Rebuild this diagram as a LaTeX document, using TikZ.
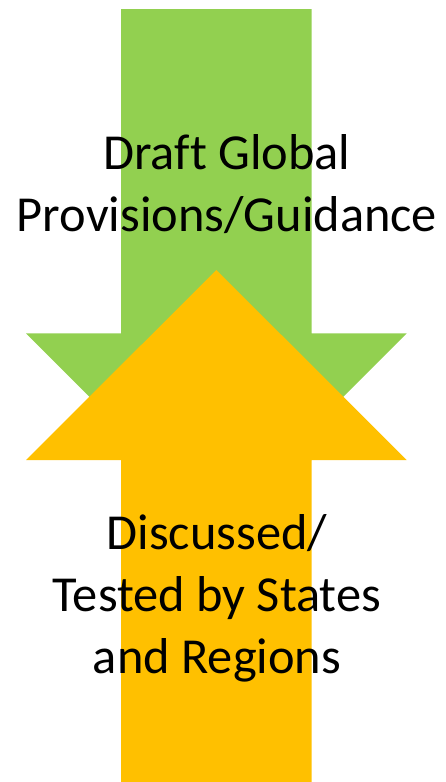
\documentclass[tikz,border=0pt]{standalone}
\usepackage{fontspec}
\setmainfont[Ligatures=NoCommon]{Carlito}
\definecolor{leafgreen}{HTML}{92D050}
\definecolor{amber}{HTML}{FFC000}
\tikzset{
  bigtext/.style={align=center, inner sep=0pt, anchor=base,
    font=\fontsize{50.4}{62}\selectfont}
}
\begin{document}
\begin{tikzpicture}[x=1pt,y=-1pt]
  \useasboundingbox (0,0) rectangle (446,782);
  % downward arrow
  \fill[leafgreen] (121,9) -- (311.7,9) -- (311.7,333.3) -- (406.7,333.3)
    -- (216.4,523.6) -- (26,333.3) -- (121,333.3) -- cycle;
  % upward arrow
  \fill[amber] (216.4,270) -- (406.7,460) -- (311.7,460) -- (311.7,782)
    -- (121,782) -- (121,460) -- (26,460) -- cycle;
  \node[bigtext] (draft) at (227,231) {Draft Global\\Provisions/Guidance};
  \node[bigtext] (tested) at (217,673.3) {Discussed/\\Tested by States\\and Regions};
\end{tikzpicture}
\end{document}
